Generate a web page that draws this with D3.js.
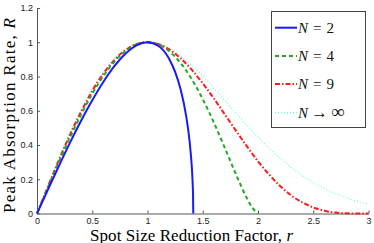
<!DOCTYPE html>
<html><head><meta charset="utf-8">
<script src="https://cdn.jsdelivr.net/npm/d3@7"></script>
<style>body{margin:0;background:#fff}svg{display:block}</style>
</head><body><svg id="c" width="374" height="243"></svg>
<script>
// Data
const rGrid = [0,0.1,0.2,0.3,0.4,0.5,0.6,0.7,0.8,0.9,1.0,1.1,1.2,1.3,1.4,1.5,1.6,1.7,1.8,1.9,2.0,2.1,2.2,2.3,2.4,2.5,2.6,2.7,2.8,2.9,3.0];
const rN2 = [0,0.1,0.2,0.3,0.4,0.5,0.6,0.7,0.8,0.9,1.0,1.1,1.2,1.25,1.3,1.35,1.38,1.40,1.405,1.41,1.412,1.4142];
const valN2 = [0,0.141,0.28,0.415,0.543,0.661,0.768,0.860,0.933,0.982,1.0,0.978,0.898,0.827,0.724,0.569,0.427,0.28,0.227,0.154,0.112,0];
const rN4 = [0,0.1,0.2,0.3,0.4,0.5,0.6,0.7,0.8,0.9,1.0,1.1,1.2,1.3,1.4,1.5,1.6,1.7,1.8,1.9,1.95,2.0];
const valN4 = [0,0.153,0.303,0.446,0.579,0.699,0.802,0.886,0.948,0.987,1.0,0.987,0.946,0.878,0.785,0.668,0.532,0.383,0.230,0.089,0.033,0];
const valN9 = [0,0.159,0.315,0.462,0.596,0.716,0.816,0.896,0.954,0.989,1.0,0.989,0.957,0.906,0.840,0.760,0.672,0.578,0.484,0.392,0.305,0.228,0.161,0.106,0.065,0.035,0.016,0.0056,0.0012,0.0001,0];
const valNinf = [0,0.164,0.323,0.473,0.609,0.727,0.826,0.903,0.958,0.990,1.0,0.990,0.963,0.921,0.866,0.803,0.733,0.661,0.587,0.515,0.446,0.382,0.323,0.269,0.222,0.181,0.146,0.116,0.092,0.071,0.055];
const xTicks = [0,0.5,1,1.5,2,2.5,3];
const xTickLabels = ["0","0.5","1","1.5","2","2.5","3"];
const yTicks = [0,0.2,0.4,0.6,0.8,1,1.2];
const yTickLabels = ["0","0.2","0.4","0.6","0.8","1","1.2"];
const seriesNames = ["2","4","9","inf"];

const svg = d3.select("#c");
const x = d3.scaleLinear().domain([0,3]).range([37,368.5]);
const y = d3.scaleLinear().domain([0,1.2]).range([213.5,8]);

const series = [
  {name:"2", xs:rN2, ys:valN2, color:"#1a1aff", w:2, dash:null},
  {name:"4", xs:rN4, ys:valN4, color:"#22aa22", w:2, dash:"4,3"},
  {name:"9", xs:rGrid, ys:valN9, color:"#ff1a1a", w:2, dash:"5,2,1.5,2"},
  {name:"inf", xs:rGrid, ys:valNinf, color:"#66ffdd", w:1.2, dash:"1,2"}
];
const line = d3.line().x(d=>x(d[0])).y(d=>y(d[1])).curve(d3.curveMonotoneX);

// axes
const ax = svg.append("g").attr("transform","translate(0,213.5)")
  .call(d3.axisBottom(x).tickValues(xTicks).tickFormat((d,i)=>xTickLabels[i]).tickSizeInner(-3).tickSizeOuter(0).tickPadding(4));
const ay = svg.append("g").attr("transform","translate(37,0)")
  .call(d3.axisLeft(y).tickValues(yTicks).tickFormat((d,i)=>yTickLabels[i]).tickSizeInner(-3).tickSizeOuter(0).tickPadding(4));
[ax,ay].forEach(g=>{
  g.selectAll("path,line").attr("stroke","#555").attr("stroke-width",1);
  g.selectAll("text").attr("font-family","Liberation Sans, Arial, sans-serif").attr("font-size",9).attr("fill","#222");
});

// curves (draw in reverse so blue on top)
series.slice().reverse().forEach(s=>{
  svg.append("path").datum(s.xs.map((r,i)=>[r,s.ys[i]]))
    .attr("d",line).attr("fill","none").attr("stroke",s.color)
    .attr("stroke-width",s.w).attr("stroke-dasharray",s.dash);
});

// axis labels
svg.append("text").attr("x",90).attr("y",240.5)
  .attr("font-family","Liberation Serif, Times New Roman, serif").attr("font-size",17)
  .attr("textLength",203).attr("lengthAdjust","spacing")
  .html('Spot Size Reduction Factor, <tspan font-style="italic">r</tspan>');
svg.append("text").attr("transform","translate(15,213) rotate(-90)")
  .attr("font-family","Liberation Serif, Times New Roman, serif").attr("font-size",17)
  .attr("textLength",195).attr("lengthAdjust","spacing")
  .html('Peak Absorption Rate, <tspan font-style="italic">R</tspan>');

// legend
const lg = svg.append("g");
lg.append("rect").attr("x",271.5).attr("y",11.5).attr("width",94).attr("height",116)
  .attr("fill","#fff").attr("stroke","#444").attr("stroke-width",1);
const rowY = [27.7,56,84,112.7];
series.forEach((s,i)=>{
  lg.append("line").attr("x1",275).attr("x2",297).attr("y1",rowY[i]).attr("y2",rowY[i])
    .attr("stroke",s.color).attr("stroke-width",s.w).attr("stroke-dasharray",s.dash);
  const t = lg.append("text").attr("x",298).attr("y",rowY[i]+5.3)
    .attr("font-family","Liberation Serif, Times New Roman, serif").attr("font-size",15).attr("fill","#111");
  t.append("tspan").attr("font-style","italic").text("N");
  if (seriesNames[i]==="inf") {
    t.append("tspan").attr("dx",3).attr("font-size",17).text("\u2192");
    t.append("tspan").attr("dx",3).attr("font-size",19).text("\u221E");
  } else {
    t.append("tspan").attr("dx",5).text("=");
    t.append("tspan").attr("dx",5).text(seriesNames[i]);
  }
});
</script></body></html>
